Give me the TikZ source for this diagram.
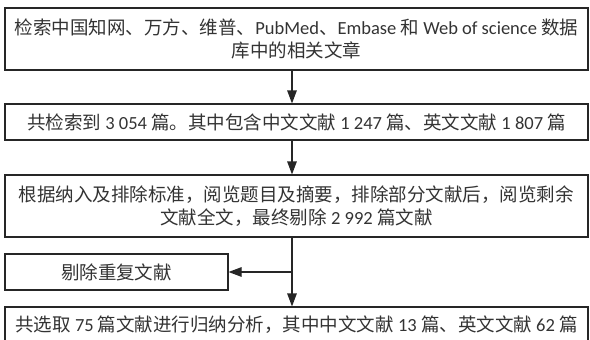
\documentclass[tikz,border=0pt]{standalone}
\usepackage{fontspec}
\setmainfont{Noto Sans CJK SC}
\newfontfamily\latfont{Carlito}
\newcommand\en[1]{{\latfont #1}}
\usetikzlibrary{arrows.meta}
\begin{document}
\begin{tikzpicture}[x=1pt,y=-1pt,
  box/.style={draw=black!85,line width=1.1pt,rectangle,align=center,inner sep=0pt,
    font=\fontsize{18.5}{23}\selectfont,text=black!80},
  conn/.style={line width=1.1pt,draw=black!85,-{Triangle[length=13pt,width=9.5pt]}}]
\useasboundingbox (0,0) rectangle (590,340);
\node[box,minimum width=583pt,minimum height=62pt] (b1) at (296.5,39)
  {检索中国知网、万方、维普、\en{PubMed}、\en{Embase }和\en{ Web of science }数据\\库中的相关文章};
\node[box,minimum width=583pt,minimum height=36pt] (b2) at (296.5,122)
  {共检索到\en{ 3 054 }篇。其中包含中文文献\en{ 1 247 }篇、英文文献\en{ 1 807 }篇};
\node[box,minimum width=583pt,minimum height=62pt] (b3) at (296.5,206)
  {根据纳入及排除标准，阅览题目及摘要，排除部分文献后，阅览剩余\\文献全文，最终剔除\en{ 2 992 }篇文献};
\node[box,minimum width=223pt,minimum height=36pt] (b4) at (116.5,272) {剔除重复文献};
\node[box,minimum width=583pt,minimum height=36pt] (b5) at (296.5,325)
  {共选取\en{ 75 }篇文献进行归纳分析，其中中文文献\en{ 13 }篇、英文文献\en{ 62 }篇};
\coordinate (ax) at (292,0);
\draw[conn] (b1.south -| ax) -- (b2.north -| ax);
\draw[conn] (b2.south -| ax) -- (b3.north -| ax);
\draw[conn] (b3.south -| ax) -- (b5.north -| ax);
\draw[conn] (b4.east -| ax) -- (b4.east);
\end{tikzpicture}
\end{document}
